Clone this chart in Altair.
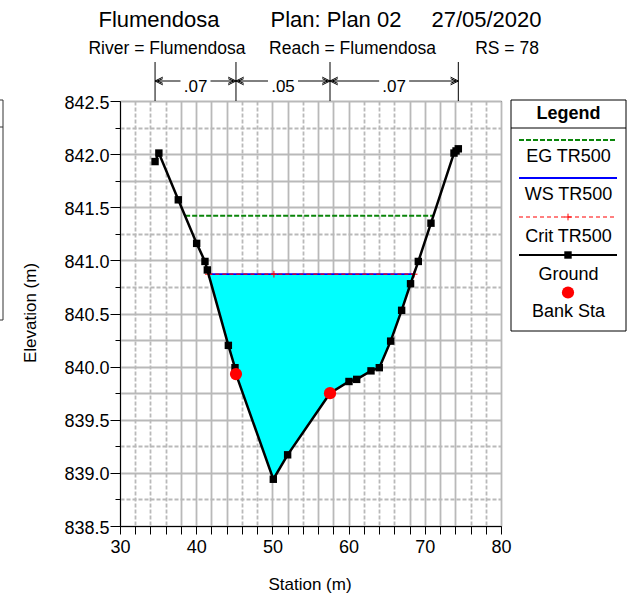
import altair as alt
import pandas as pd

FONT = "Liberation Sans"

# plot area placement on the page (pixels)
L, T, W, H = 120, 101, 381, 425
PAGE_W, PAGE_H = 633, 598

# ---- cross-section data -------------------------------------------------
station = [34.6, 35.1, 37.65, 40.06, 41.15, 41.46, 44.22, 45.09, 45.22, 50.12,
           52.0, 57.56, 60.05, 61.06, 62.94, 64.03, 65.52, 66.96, 68.13, 69.15,
           70.81, 73.83, 74.1, 74.4]
elevation = [841.93, 842.01, 841.57, 841.16, 840.99, 840.91, 840.20, 839.99,
             839.93, 838.94, 839.17, 839.75, 839.86, 839.88, 839.96, 839.99,
             840.24, 840.53, 840.78, 840.99, 841.35, 842.01, 842.03, 842.05]

bank_station = [45.22, 57.56]
bank_elev = [839.93, 839.75]

ws_elev = 840.87
ws_left, ws_right = 41.6, 68.6
eg_elev = 841.42
eg_left, eg_right = 38.55, 71.1
crit_elev = 840.87
crit_marks = [41.6, 50.2, 68.6]

n_bounds = [34.6, 45.22, 57.56, 74.4]
n_values = [0.07, 0.05, 0.07]

# ---- tables --------------------------------------------------------------
ground = pd.DataFrame({"station": station, "elev": elevation})

wet = ground[(ground.station > ws_left) & (ground.station < ws_right)]
water = pd.concat([
    pd.DataFrame({"station": [ws_left], "elev": [ws_elev]}),
    wet,
    pd.DataFrame({"station": [ws_right], "elev": [ws_elev]}),
], ignore_index=True)
water["ws"] = ws_elev

eg = pd.DataFrame({"station": [eg_left], "station2": [eg_right], "elev": [eg_elev]})
wsl = pd.DataFrame({"station": [ws_left], "station2": [ws_right], "elev": [ws_elev]})
crit = pd.DataFrame({"station": crit_marks, "elev": [crit_elev] * len(crit_marks)})
banks = pd.DataFrame({"station": bank_station, "elev": bank_elev})

mids = [(a + b) / 2 for a, b in zip(n_bounds[:-1], n_bounds[1:])]
n_left = pd.DataFrame({"station": n_bounds[:-1], "station2": mids})
n_right = pd.DataFrame({"station": mids, "station2": n_bounds[1:]})
n_text = pd.DataFrame({"station": mids,
                       "label": [f"{v:.2f}".lstrip("0") for v in n_values]})
n_rules = pd.DataFrame({"station": n_bounds})
n_heads_l = pd.DataFrame({"station": n_bounds[:-1]})
n_heads_r = pd.DataFrame({"station": n_bounds[1:]})

one = pd.DataFrame({"k": [0]})

# ---- scales & axes -------------------------------------------------------
x_scale = alt.Scale(domain=[30, 80], nice=False, zero=False)
y_scale = alt.Scale(domain=[838.5, 842.5], nice=False, zero=False)

x_dashed = [32, 34, 36, 46, 48, 54, 62, 64, 66, 76, 78]
y_dashed = [842.25, 841.25, 840.75, 839.25, 838.75]

GRID = "#b9b9b9"

x_axis = alt.Axis(
    values=list(range(30, 81, 2)),
    labelExpr="datum.value % 10 == 0 ? format(datum.value, 'd') : ''",
    labelFont=FONT, labelFontSize=18, labelColor="black",
    labelPadding=4, labelFlush=False, labelOverlap=False,
    tickSize=8, tickColor="black", domainColor="black",
    grid=True, gridColor=GRID, gridWidth=1.8, gridOpacity=1,
    gridDash={"condition": {"test": f"indexof({x_dashed}, datum.value) >= 0",
                            "value": [4, 2]}, "value": [1, 0]},
    title=None,
)
y_axis = alt.Axis(
    values=[838.5 + 0.25 * i for i in range(17)],
    labelExpr="datum.value % 0.5 == 0 ? format(datum.value, '.1f') : ''",
    labelFont=FONT, labelFontSize=18, labelColor="black",
    labelPadding=1, labelFlush=False, labelOverlap=False, labelOffset=2,
    tickSize={"condition": {"test": "datum.value % 0.5 == 0", "value": 10},
              "value": 5},
    tickColor="black", domainColor="black",
    grid=True, gridColor=GRID, gridWidth=1.8, gridOpacity=1,
    gridDash={"condition": {"test": f"indexof({y_dashed}, datum.value) >= 0",
                            "value": [4, 2]}, "value": [1, 0]},
    title=None,
)

X = alt.X("station:Q", scale=x_scale, axis=x_axis)
Y = alt.Y("elev:Q", scale=y_scale, axis=y_axis)


def px(x):
    return alt.value(x - L)


def py(y):
    return alt.value(y - T)


def label(text, x, y, size, align="center", weight="normal", angle=0,
          baseline="alphabetic"):
    return alt.Chart(one).mark_text(
        text=text, font=FONT, fontSize=size, fontWeight=weight, color="black",
        align=align, baseline=baseline, angle=angle,
    ).encode(x=px(x), y=py(y))


def hline(x1, x2, y, color="black", width=1.0, dash=None):
    kw = dict(color=color, strokeWidth=width)
    if dash:
        kw["strokeDash"] = dash
    return alt.Chart(one).mark_rule(**kw).encode(x=px(x1), x2=px(x2), y=py(y))


def vline(x, y1, y2, color="black", width=1.0):
    return alt.Chart(one).mark_rule(color=color, strokeWidth=width).encode(
        x=px(x), y=py(y1), y2=py(y2))


# ---- data layers ---------------------------------------------------------
water_fill = alt.Chart(water).mark_area(color="#00ffff", opacity=1).encode(
    x=X, y=Y, y2=alt.Y2("ws:Q"))

eg_line = alt.Chart(eg).mark_rule(color="#0a850a", strokeWidth=2.2,
                                   strokeDash=[5, 2]).encode(
    x=X, x2=alt.X2("station2:Q"), y=Y)
ws_line = alt.Chart(wsl).mark_rule(color="#0000ff", strokeWidth=1.8).encode(
    x=X, x2=alt.X2("station2:Q"), y=Y)
crit_line = alt.Chart(wsl).mark_rule(color="#ff0000", strokeWidth=1.2,
                                     strokeDash=[4, 3]).encode(
    x=X, x2=alt.X2("station2:Q"), y=Y)
crit_pts = alt.Chart(crit).mark_point(
    shape="M-1,0L1,0M0,-1L0,1", filled=False, color="#ff0000", size=45,
    strokeWidth=1, opacity=1).encode(x=X, y=Y)

ground_line = alt.Chart(ground).mark_line(color="black", strokeWidth=2.5).encode(
    x=X, y=Y)
ground_pts = alt.Chart(ground).mark_point(
    shape="square", filled=True, color="black", size=55, opacity=1).encode(
    x=X, y=Y)
bank_pts = alt.Chart(banks).mark_circle(color="#ff0000", size=150,
                                        opacity=1).encode(x=X, y=Y)

# Manning's n bands above the plot
ARROW_Y = 81
n_vrules = alt.Chart(n_rules).mark_rule(color="black", strokeWidth=1).encode(
    x=X, y=py(62), y2=py(T))
n_seg_l = alt.Chart(n_left).mark_rule(color="black", strokeWidth=1,
                                      x2Offset=-15).encode(
    x=X, x2=alt.X2("station2:Q"), y=py(ARROW_Y))
n_seg_r = alt.Chart(n_right).mark_rule(color="black", strokeWidth=1,
                                       xOffset=15).encode(
    x=X, x2=alt.X2("station2:Q"), y=py(ARROW_Y))
n_head_l = alt.Chart(n_heads_l).mark_point(
    shape="M0,0L1,-0.5M0,0L1,0.5M0.3,0L1,-0.3M0.3,0L1,0.3", filled=False,
    color="black", size=240, strokeWidth=1, opacity=1).encode(x=X, y=py(ARROW_Y))
n_head_r = alt.Chart(n_heads_r).mark_point(
    shape="M0,0L-1,-0.5M0,0L-1,0.5M-0.3,0L-1,-0.3M-0.3,0L-1,0.3", filled=False,
    color="black", size=240, strokeWidth=1, opacity=1).encode(x=X, y=py(ARROW_Y))
n_labels = alt.Chart(n_text).mark_text(
    font=FONT, fontSize=17, color="black", baseline="alphabetic").encode(
    x=X, y=py(92), text="label:N")

# ---- titles --------------------------------------------------------------
titles = [
    label("Flumendosa", 159, 27, 22),
    label("Plan: Plan 02", 336, 27, 22),
    label("27/05/2020", 486.5, 27, 22),
    label("River = Flumendosa", 167, 54, 17.5),
    label("Reach = Flumendosa", 352.5, 54, 17.5),
    label("RS = 78", 507, 54, 17.5),
    label("Station (m)", 310, 590, 17),
    label("Elevation (m)", 31, 313, 17, angle=270, baseline="middle"),
]

# ---- legend box ----------------------------------------------------------
LG_X1, LG_X2, LG_Y1, LG_Y2 = 511, 626, 100, 331
LG_C = (LG_X1 + LG_X2) / 2
legend_box = alt.Chart(one).mark_rect(
    fill="white", stroke="black", strokeWidth=1).encode(
    x=px(LG_X1), x2=px(LG_X2), y=py(LG_Y1), y2=py(LG_Y2))
legend = [
    legend_box,
    label("Legend", LG_C, 119, 18, weight="bold"),
    hline(LG_X1, LG_X2, 128),
    hline(519, 617, 140, color="#0a850a", width=2.2, dash=[5, 2]),
    label("EG TR500", LG_C, 162, 18),
    hline(519, 617, 178, color="#0000ff", width=1.8),
    label("WS TR500", LG_C, 200, 18),
    hline(519, 617, 217, color="#ff0000", width=1.2, dash=[4, 3]),
    alt.Chart(one).mark_point(shape="M-1,0L1,0M0,-1L0,1", filled=False,
                              color="#ff0000", size=45, strokeWidth=1,
                              opacity=1).encode(x=px(568), y=py(217)),
    label("Crit TR500", LG_C, 241.5, 18),
    hline(519, 617, 255, width=2),
    alt.Chart(one).mark_point(shape="square", filled=True, color="black",
                              size=55, opacity=1).encode(x=px(568), y=py(255)),
    label("Ground", LG_C, 280, 18),
    alt.Chart(one).mark_circle(color="#ff0000", size=150, opacity=1).encode(
        x=px(568), y=py(292.5)),
    label("Bank Sta", LG_C, 317, 18),
]

# neighbouring panel edge on the far left
side_box = [
    vline(3, 100, 320, color="#333333"),
    hline(0, 3, 100, color="#333333"),
    hline(0, 3, 127, color="#333333"),
    hline(0, 3, 320, color="#333333"),
]

chart = alt.layer(
    water_fill, eg_line, ws_line, crit_line, crit_pts,
    ground_line, ground_pts, bank_pts,
    n_vrules, n_seg_l, n_seg_r, n_head_l, n_head_r, n_labels,
    *titles, *legend, *side_box,
).properties(
    width=W, height=H,
    autosize=alt.AutoSizeParams(type="none"),
    padding={"left": L, "top": T, "right": PAGE_W - L - W,
             "bottom": PAGE_H - T - H},
    background="white",
).configure_view(stroke="black", strokeWidth=1)

chart.save("out.html", embed_options={"renderer": "svg", "actions": False})
